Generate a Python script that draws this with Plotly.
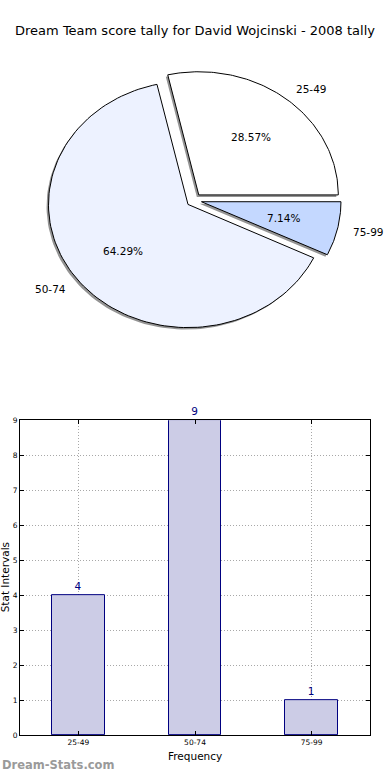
import numpy as np
import plotly.graph_objects as go

# ---- data ----
categories = ["25-49", "50-74", "75-99"]
counts = [4, 9, 1]
explode = [0.055, 0.055, 0.055]
pie_colors = ["#FFFFFF", "#EDF2FF", "#C4D8FF"]
y_ticks = [0, 1, 2, 3, 4, 5, 6, 7, 8, 9]

title = "Dream Team score tally for David Wojcinski - 2008 tally"
FONT = "DejaVu Sans"

W, H = 390, 780
# pie geometry (pixel mapping of unit ellipse)
cx, cy, rx, ry = 194.0, 198.5, 139.5, 124.6

fig = go.Figure()

total = float(sum(counts))
fracs = [c / total for c in counts]
starts = np.cumsum([0] + fracs[:-1]) * 360.0

def slice_xy(i, dx=0.0, dy=0.0):
    a0 = starts[i]
    a1 = a0 + fracs[i] * 360.0
    mid = np.deg2rad((a0 + a1) / 2)
    ox = explode[i] * np.cos(mid) + dx
    oy = explode[i] * np.sin(mid) + dy
    th = np.deg2rad(np.linspace(a0, a1, 120))
    xs = np.concatenate([[ox], ox + np.cos(th), [ox]])
    ys = np.concatenate([[oy], oy + np.sin(th), [oy]])
    return xs, ys, ox, oy, mid

# shadows
for i in range(len(counts)):
    xs, ys, *_ = slice_xy(i, -0.014, -0.016)
    fig.add_trace(go.Scatter(x=xs, y=ys, xaxis="x2", yaxis="y2", mode="lines",
                             fill="toself", fillcolor="rgba(60,60,60,0.55)",
                             line=dict(width=0), hoverinfo="skip", showlegend=False))
# slices
for i in range(len(counts)):
    xs, ys, ox, oy, mid = slice_xy(i)
    fig.add_trace(go.Scatter(x=xs, y=ys, xaxis="x2", yaxis="y2", mode="lines",
                             fill="toself", fillcolor=pie_colors[i],
                             line=dict(width=1, color="black"),
                             hoverinfo="skip", showlegend=False))
    # labels
    lx = ox + 1.1 * np.cos(mid)
    ly = oy + 1.1 * np.sin(mid)
    fig.add_annotation(x=lx, y=ly, xref="x2", yref="y2", text=categories[i],
                       showarrow=False, xanchor="left" if lx > ox else "right",
                       yanchor="middle", font=dict(family=FONT, size=10.5, color="black"))
    px = ox + 0.6 * np.cos(mid)
    py = oy + 0.6 * np.sin(mid)
    fig.add_annotation(x=px, y=py, xref="x2", yref="y2",
                       text="%.2f%%" % (fracs[i] * 100), showarrow=False,
                       xanchor="center", yanchor="middle",
                       font=dict(family=FONT, size=10.5, color="black"))

# bar chart
xpos = list(range(len(categories)))
fig.add_trace(go.Bar(x=xpos, y=counts, width=0.45, marker=dict(color="#CCCCE6",
                     line=dict(color="#000080", width=1)),
                     text=[str(c) for c in counts], textposition="outside",
                     textfont=dict(family=FONT, size=10.5, color="#000080"),
                     cliponaxis=False, hoverinfo="skip", showlegend=False))

plot_l, plot_r, plot_t, plot_b = 20, 370, 421, 740
GRID = dict(showgrid=True, gridcolor="#A8A8A8", griddash="1px,2px", gridwidth=1)

fig.update_layout(
    autosize=True, margin=dict(l=0, r=0, t=0, b=0),
    paper_bgcolor="white", plot_bgcolor="white",
    title=dict(text=title, x=0.5, xanchor="center", y=1 - 30 / H, yanchor="middle",
               font=dict(family=FONT, size=13, color="black")),
    xaxis=dict(domain=[plot_l / W, plot_r / W], range=[-0.5, 2.5],
               tickvals=xpos, ticktext=categories, ticks="inside", ticklen=4,
               tickcolor="black", showline=True, linecolor="black", linewidth=1,
               mirror="allticks", zeroline=False,
               tickfont=dict(family=FONT, size=7.5, color="black"),
               fixedrange=True, **GRID),
    yaxis=dict(domain=[(H - plot_b) / H, (H - plot_t) / H], range=[0, 9],
               tickvals=y_ticks, ticks="inside", ticklen=4, tickcolor="black",
               showline=True, linecolor="black", linewidth=1, mirror="allticks",
               zeroline=False, tickfont=dict(family=FONT, size=7.5, color="black"),
               fixedrange=True, **GRID),
    xaxis2=dict(domain=[0, 1], range=[-cx / rx, (W - cx) / rx], visible=False,
                fixedrange=True),
    yaxis2=dict(domain=[0.5, 1], range=[(cy - 390) / ry, cy / ry], visible=False,
                fixedrange=True),
    bargap=0,
)

fig.add_annotation(x=(plot_l + plot_r) / 2 / W, y=1 - 761 / H, xref="paper", yref="paper",
                   text="Frequency", showarrow=False, xanchor="center", yanchor="middle",
                   font=dict(family=FONT, size=10.5, color="black"))
fig.add_annotation(x=5 / W, y=1 - 580 / H, xref="paper", yref="paper",
                   text="Stat Intervals", showarrow=False, textangle=-90,
                   xanchor="center", yanchor="middle",
                   font=dict(family=FONT, size=10.5, color="black"))
fig.add_annotation(x=0, y=1 - 770 / H, xref="paper", yref="paper",
                   text="<b>Dream-Stats.com</b>", showarrow=False, xanchor="left",
                   yanchor="middle", font=dict(family=FONT, size=11.5, color="#9A9A9A"))

post = (
    "var d=document.documentElement,b=document.body;"
    "d.style.margin='0';d.style.padding='0';d.style.overflow='hidden';"
    "b.style.margin='0';b.style.padding='0';b.style.overflow='hidden';"
    "var g=document.getElementById('{plot_id}');"
    "g.style.width='100vw';g.style.height='100vh';"
    "Plotly.Plots.resize(g);"
)
fig.write_html("out.html", config={"displayModeBar": False, "responsive": True},
               default_width="100vw", default_height="100vh", post_script=post)
